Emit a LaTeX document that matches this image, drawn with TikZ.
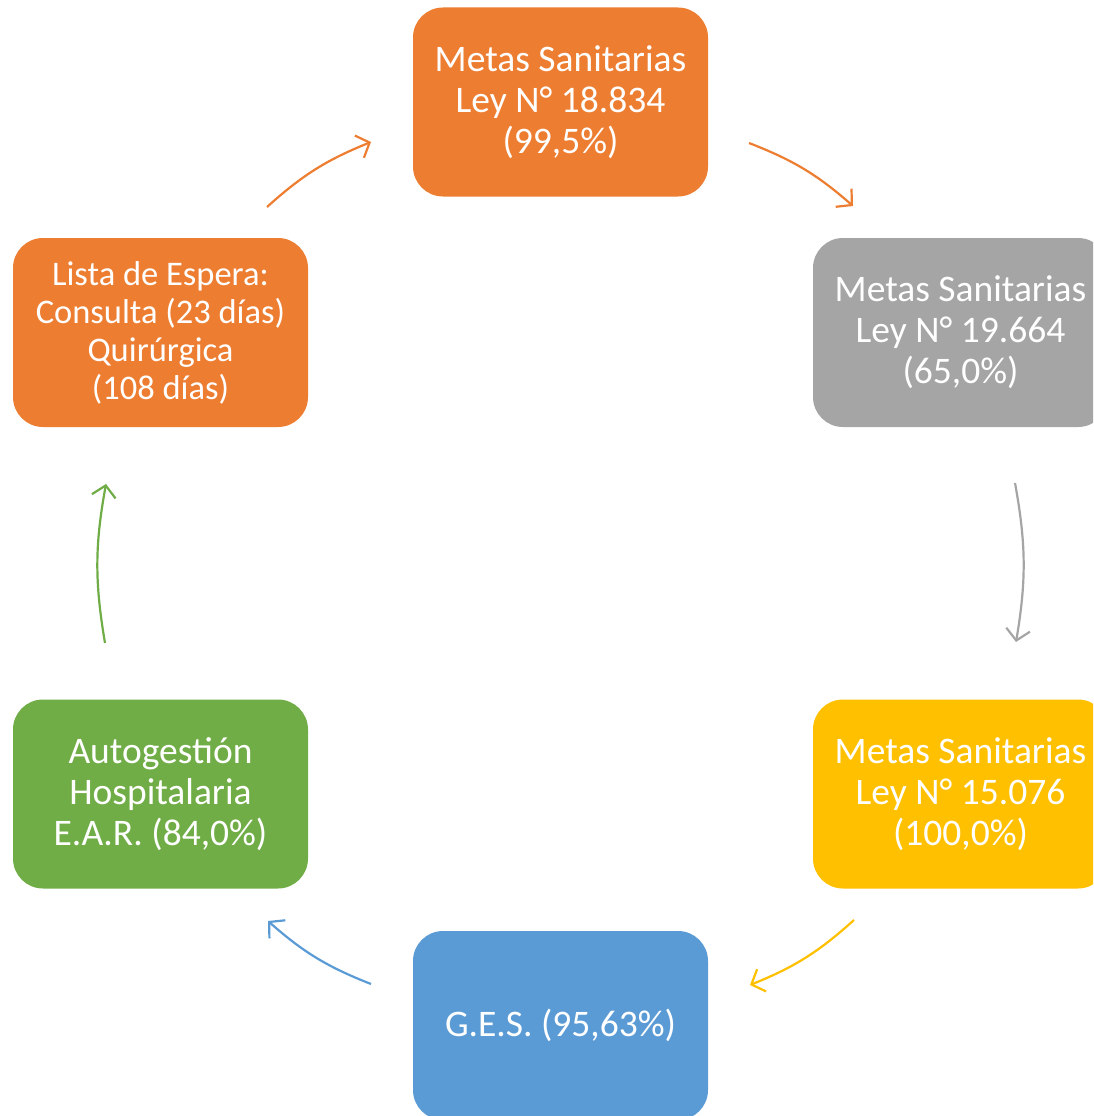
\documentclass[tikz,border=0pt]{standalone}
\usepackage{fontspec}
\setmainfont{Carlito}
\usetikzlibrary{arrows.meta}
\definecolor{corange}{HTML}{ED7D31}
\definecolor{cgray}{HTML}{A5A5A5}
\definecolor{cgold}{HTML}{FFC000}
\definecolor{cblue}{HTML}{5B9BD5}
\definecolor{cgreen}{HTML}{70AD47}
\begin{document}
\begin{tikzpicture}[x=1pt,y=-1pt,
  box/.style={rounded corners=30pt, minimum width=295pt, minimum height=189pt,
    inner sep=0pt, text=white, align=center, font=\fontsize{37.5}{41}\selectfont},
  smallbox/.style={box, font=\fontsize{34.5}{38}\selectfont},
  conn/.style={line width=2.2pt, -{Straight Barb[length=11pt,width=24pt,line width=2.2pt]}, bend left=10}]
\useasboundingbox (0,0) rectangle (1093,1116);
\clip (0,0) rectangle (1093,1116);
\node[box, fill=corange] (top) at (560.5,102) {Metas Sanitarias\\Ley N° 18.834\\(99,5\%)};
\node[box, fill=cgray] (rtop) at (960.5,332.5) {Metas Sanitarias\\Ley N° 19.664\\(65,0\%)};
\node[box, fill=cgold] (rbot) at (960.5,794) {Metas Sanitarias\\Ley N° 15.076\\(100,0\%)};
\node[box, fill=cblue] (bot) at (560.5,1025.5) {G.E.S. (95,63\%)};
\node[box, fill=cgreen] (lbot) at (160.5,794) {Autogestión\\Hospitalaria\\E.A.R. (84,0\%)};
\node[smallbox, fill=corange] (ltop) at (160.5,332.5) {Lista de Espera:\\Consulta (23 días)\\Quirúrgica\\(108 días)};
\coordinate (a1s) at (749,143); \coordinate (a1e) at (853,206);
\coordinate (a2s) at (1015,483); \coordinate (a2e) at (1016,642);
\coordinate (a3s) at (854,920); \coordinate (a3e) at (750,985);
\coordinate (a4s) at (371,984); \coordinate (a4e) at (268,921);
\coordinate (a5s) at (105,643); \coordinate (a5e) at (106,484);
\coordinate (a6s) at (267,207); \coordinate (a6e) at (371,142);
\draw[conn, corange] (a1s) to (a1e);
\draw[conn, cgray] (a2s) to (a2e);
\draw[conn, cgold] (a3s) to (a3e);
\draw[conn, cblue] (a4s) to (a4e);
\draw[conn, cgreen] (a5s) to (a5e);
\draw[conn, corange] (a6s) to (a6e);
\end{tikzpicture}
\end{document}
